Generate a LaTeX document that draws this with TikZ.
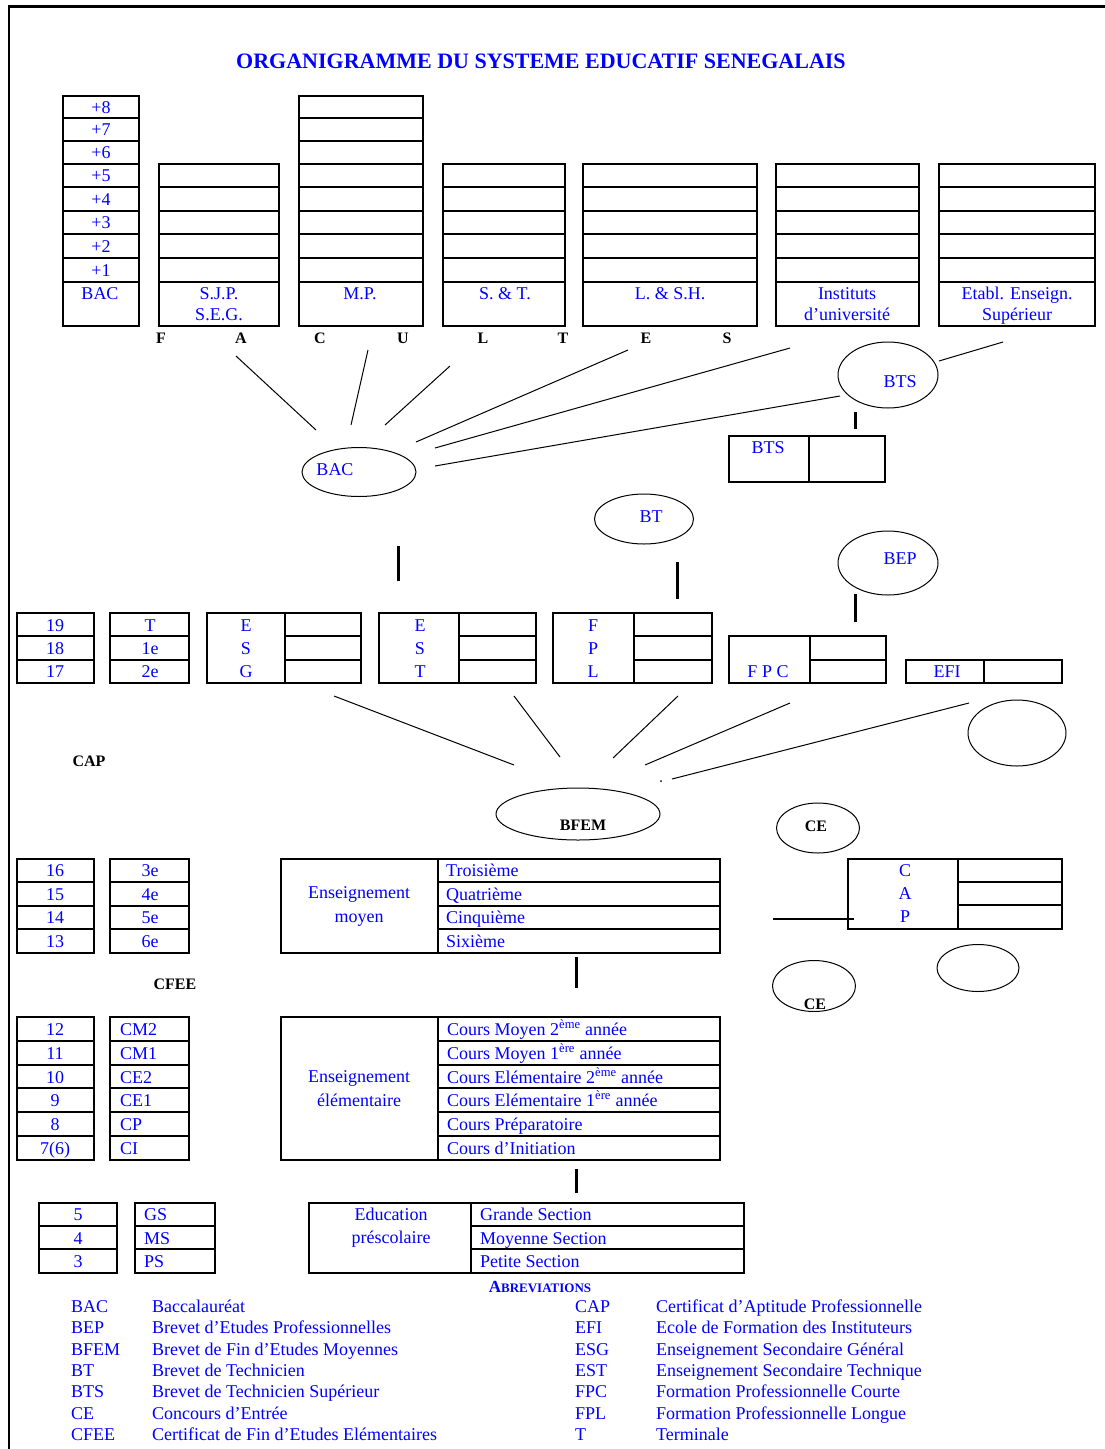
\documentclass[tikz,border=0pt]{standalone}
\usepackage{fontspec}
\setmainfont{Liberation Serif}
\usetikzlibrary{shapes.geometric}
\definecolor{txtblue}{RGB}{0,0,255}
\begin{document}
\begin{tikzpicture}[x=1pt,y=-1pt,
  box/.style={line width=1.5pt},
  thinline/.style={line width=1pt},
  stub/.style={line width=3pt},
  t/.style={text=txtblue,font=\fontsize{18}{20}\selectfont,inner sep=0pt,text height=12pt,text depth=0pt},
  tl/.style={t,anchor=west},
  tb/.style={text=black,font=\bfseries\fontsize{16}{18}\selectfont,inner sep=0pt,text height=11pt,text depth=0pt},
  ell/.style={draw,ellipse,line width=1pt,inner sep=0pt},
]
\useasboundingbox (0,0) rectangle (1105,1449);
% frame
\draw[line width=3pt] (8,6) -- (1105,6);
\draw[line width=2pt] (9,5) -- (9,1449);
% title
\node[text=txtblue,font=\bfseries\fontsize{22}{24}\selectfont,inner sep=0pt] (title) at (541,61) {ORGANIGRAMME DU SYSTEME EDUCATIF SENEGALAIS};

% ---------- top grid ----------
\draw[box] (63,96) rectangle (139,326);
\foreach \y in {118,141,164,187,211,234,258,282} \draw[box] (63,\y) -- (139,\y);
\foreach \lab/\y [count=\i] in {+8/107,+7/129.5,+6/152.5,+5/175.5,+4/199,+3/222.5,+2/246,+1/270}
  \node[t] (lv\i) at (101,\y) {\lab};
\node[t] (lbac) at (100,293) {BAC};

\foreach \xa/\xb in {159/279,443/565,583/757,776/919,939/1095}{
  \draw[box] (\xa,164) rectangle (\xb,326);
  \foreach \y in {187,211,234,258,282} \draw[box] (\xa,\y) -- (\xb,\y);
}
\draw[box] (299,96) rectangle (423,326);
\foreach \y in {118,141,164,187,211,234,258,282} \draw[box] (299,\y) -- (423,\y);

\node[t] (lsjp) at (219,293) {S.J.P.};
\node[t] (lseg) at (219,314) {S.E.G.};
\node[t] (lmp) at (360,293) {M.P.};
\node[t] (lst) at (505,293) {S. \& T.};
\node[t] (llsh) at (670,293) {L. \& S.H.};
\node[t] (linst) at (847,293) {Instituts};
\node[t] (luniv) at (847,314) {d'université};
\node[t] (letab) at (1017,293) {Etabl. Enseign.};
\node[t] (lsup) at (1017,314) {Supérieur};

\foreach \l/\x [count=\i] in {F/161,A/241,C/320,U/403,L/483,T/563,E/646,S/727}
  \node[tb] (fac\i) at (\x,338) {\l};

% ---------- BAC / BTS ----------
\node[ell,minimum width=114pt,minimum height=49pt] (ebac) at (359,472) {};
\node[t] (ebacl) at (335,469) {BAC};

\coordinate (a1) at (236,356); \coordinate (b1) at (316,430);
\coordinate (a2) at (368,350); \coordinate (b2) at (351,425);
\coordinate (a3) at (450,366); \coordinate (b3) at (385,425);
\coordinate (a4) at (628,350); \coordinate (b4) at (416,442);
\coordinate (a5) at (790,348); \coordinate (b5) at (435,448);
\coordinate (a6) at (840,396); \coordinate (b6) at (435,466);
\coordinate (a7) at (1003,342); \coordinate (b7) at (939,361);
\foreach \i in {1,...,7} \draw[thinline] (a\i) -- (b\i);

\node[ell,minimum width=100pt,minimum height=66pt] (ebts) at (888,375) {};
\node[t] (ebtsl) at (900,381) {BTS};
\coordinate (sbts1) at (855,412); \coordinate (sbts2) at (855,429);
\draw[stub] (sbts1) -- (sbts2);
\draw[box] (729,436) rectangle (885,482);
\draw[box] (809,436) -- (809,482);
\node[t] (bbts) at (768,447) {BTS};

\node[ell,minimum width=99pt,minimum height=50pt] (ebt) at (644,519) {};
\node[t] (ebtl) at (651,516) {BT};
\coordinate (sbt1) at (677,562); \coordinate (sbt2) at (677,599);
\draw[stub] (sbt1) -- (sbt2);

\node[ell,minimum width=100pt,minimum height=64pt] (ebep) at (888,563) {};
\node[t] (ebepl) at (900,558) {BEP};
\coordinate (sbep1) at (855,594); \coordinate (sbep2) at (855,622);
\draw[stub] (sbep1) -- (sbep2);

\coordinate (sbac1) at (398,546); \coordinate (sbac2) at (398,581);
\draw[stub] (sbac1) -- (sbac2);

% ---------- secondary row ----------
\draw[box] (17,613) rectangle (94,683);
\draw[box] (17,636) -- (94,636); \draw[box] (17,660) -- (94,660);
\node[t] (n19) at (55,625) {19};
\node[t] (n18) at (55,648) {18};
\node[t] (n17) at (55,671) {17};
\draw[box] (110,613) rectangle (189,683);
\draw[box] (110,636) -- (189,636); \draw[box] (110,660) -- (189,660);
\node[t] (cT) at (150,625) {T};
\node[t] (c1e) at (150,648) {1e};
\node[t] (c2e) at (150,671) {2e};

\foreach \xa/\xd/\xb/\nm in {207/285/361/esg,379/459/536/est,553/634/712/fpl}{
  \draw[box] (\xa,613) rectangle (\xb,683);
  \draw[box] (\xd,613) -- (\xd,683);
  \draw[box] (\xd,636) -- (\xb,636);
  \draw[box] (\xd,660) -- (\xb,660);
}
\node[t] (esg1) at (246,625) {E}; \node[t] (esg2) at (246,648) {S}; \node[t] (esg3) at (246,671) {G};
\node[t] (est1) at (420,625) {E}; \node[t] (est2) at (420,648) {S}; \node[t] (est3) at (420,671) {T};
\node[t] (fpl1) at (593,625) {F}; \node[t] (fpl2) at (593,648) {P}; \node[t] (fpl3) at (593,671) {L};

\draw[box] (729,636) rectangle (886,683);
\draw[box] (810,636) -- (810,683);
\draw[box] (810,660) -- (886,660);
\node[t] (fpc) at (768,671) {F P C};
\draw[box] (906,660) rectangle (1062,683);
\draw[box] (984,660) -- (984,683);
\node[t] (efi) at (947,671) {EFI};

% ---------- lines to BFEM ----------
\coordinate (c1) at (334,696); \coordinate (d1) at (514,765);
\coordinate (c2) at (514,696); \coordinate (d2) at (560,757);
\coordinate (c3) at (678,696); \coordinate (d3) at (613,758);
\coordinate (c4) at (790,703); \coordinate (d4) at (645,765);
\coordinate (c5) at (969,703); \coordinate (d5) at (672,779);
\foreach \i in {1,...,5} \draw[thinline] (c\i) -- (d\i);
\fill (661,781) circle (1pt);
\node[ell,minimum width=98pt,minimum height=66pt] (eempty1) at (1017,733) {};

\node[ell,minimum width=164pt,minimum height=52pt] (ebfem) at (578,814) {};
\node[tb] (ebfeml) at (583,825) {BFEM};
\node[tb] (capt) at (89,761) {CAP};

\node[ell,minimum width=83pt,minimum height=50pt] (ece1) at (818,828) {};
\node[tb] (ece1l) at (816,826) {CE};

\draw[box] (848,859) rectangle (1062,929);
\draw[box] (958,859) -- (958,929);
\draw[box] (958,882) -- (1062,882); \draw[box] (958,905) -- (1062,905);
\node[t] (cap1) at (905,870) {C};
\node[t] (cap2) at (905,893) {A};
\node[t] (cap3) at (905,916) {P};
\coordinate (hl1) at (773,919); \coordinate (hl2) at (854,919);
\draw[line width=1.2pt] (hl1) -- (hl2);

\node[ell,minimum width=83pt,minimum height=51pt] (ece2) at (814,986) {};
\node[tb] (ece2l) at (815,1004) {CE};
\node[ell,minimum width=82pt,minimum height=47pt] (eempty3) at (978,968) {};

% ---------- middle (moyen) ----------
\draw[box] (17,859) rectangle (94,953);
\foreach \y in {882,906,929} \draw[box] (17,\y) -- (94,\y);
\node[t] (n16) at (55,870) {16};
\node[t] (n15) at (55,894) {15};
\node[t] (n14) at (55,917) {14};
\node[t] (n13) at (55,941) {13};
\draw[box] (110,859) rectangle (189,953);
\foreach \y in {882,906,929} \draw[box] (110,\y) -- (189,\y);
\node[t] (c3e) at (150,870) {3e};
\node[t] (c4e) at (150,894) {4e};
\node[t] (c5e) at (150,917) {5e};
\node[t] (c6e) at (150,941) {6e};

\draw[box] (281,859) rectangle (720,953);
\draw[box] (438,859) -- (438,953);
\foreach \y in {882,906,929} \draw[box] (438,\y) -- (720,\y);
\node[t] (em1) at (359,892) {Enseignement};
\node[t] (em2) at (359,916) {moyen};
\node[tl] (m1) at (446,870) {Troisième};
\node[tl] (m2) at (446,894) {Quatrième};
\node[tl] (m3) at (446,917) {Cinquième};
\node[tl] (m4) at (446,941) {Sixième};
\coordinate (sm1) at (576,957); \coordinate (sm2) at (576,988);
\draw[stub] (sm1) -- (sm2);
\node[tb] (cfeet) at (175,984) {CFEE};

% ---------- elementary ----------
\draw[box] (17,1017) rectangle (94,1160);
\foreach \y in {1041,1065,1088,1112,1136} \draw[box] (17,\y) -- (94,\y);
\foreach \lab/\y [count=\i] in {12/1029,11/1053,10/1077,9/1100,8/1124,7(6)/1148}
  \node[t] (ne\i) at (55,\y) {\lab};
\draw[box] (110,1017) rectangle (189,1160);
\foreach \y in {1041,1065,1088,1112,1136} \draw[box] (110,\y) -- (189,\y);
\foreach \lab/\y [count=\i] in {CM2/1029,CM1/1053,CE2/1077,CE1/1100,CP/1124,CI/1148}
  \node[tl] (ce\i) at (120,\y) {\lab};

\draw[box] (281,1017) rectangle (720,1160);
\draw[box] (438,1017) -- (438,1160);
\foreach \y in {1041,1065,1088,1112,1136} \draw[box] (438,\y) -- (720,\y);
\node[t] (ee1) at (359,1076) {Enseignement};
\node[t] (ee2) at (359,1100) {élémentaire};
\node[tl] (el1) at (447,1029) {Cours Moyen 2\textsuperscript{ème} année};
\node[tl] (el2) at (447,1053) {Cours Moyen 1\textsuperscript{ère} année};
\node[tl] (el3) at (447,1077) {Cours Elémentaire 2\textsuperscript{ème} année};
\node[tl] (el4) at (447,1100) {Cours Elémentaire 1\textsuperscript{ère} année};
\node[tl] (el5) at (447,1124) {Cours Préparatoire};
\node[tl] (el6) at (447,1148) {Cours d'Initiation};
\coordinate (se1) at (576,1169); \coordinate (se2) at (576,1193);
\draw[stub] (se1) -- (se2);

% ---------- preschool ----------
\draw[box] (39,1203) rectangle (117,1273);
\draw[box] (39,1226) -- (117,1226); \draw[box] (39,1249) -- (117,1249);
\node[t] (np5) at (78,1214) {5};
\node[t] (np4) at (78,1238) {4};
\node[t] (np3) at (78,1261) {3};
\draw[box] (135,1203) rectangle (215,1273);
\draw[box] (135,1226) -- (215,1226); \draw[box] (135,1249) -- (215,1249);
\node[tl] (gs) at (144,1214) {GS};
\node[tl] (ms) at (144,1238) {MS};
\node[tl] (ps) at (144,1261) {PS};

\draw[box] (309,1203) rectangle (744,1273);
\draw[box] (471,1203) -- (471,1273);
\draw[box] (471,1226) -- (744,1226); \draw[box] (471,1249) -- (744,1249);
\node[t] (ep1) at (391,1214) {Education};
\node[t] (ep2) at (391,1237) {préscolaire};
\node[tl] (ps1) at (480,1214) {Grande Section};
\node[tl] (ps2) at (480,1238) {Moyenne Section};
\node[tl] (ps3) at (480,1261) {Petite Section};

% ---------- abbreviations ----------
\node[text=txtblue,inner sep=0pt,font=\bfseries] (abbr) at (540,1287)
  {{\fontsize{17}{18}\selectfont A}{\fontsize{13}{14}\selectfont BREVIATIONS}};
\foreach \ab/\de/\y [count=\i] in {
  BAC/Baccalauréat/1306,
  BEP/Brevet d'Etudes Professionnelles/1327,
  BFEM/Brevet de Fin d'Etudes Moyennes/1349,
  BT/Brevet de Technicien/1370,
  BTS/Brevet de Technicien Supérieur/1391,
  CE/Concours d'Entrée/1413,
  CFEE/Certificat de Fin d'Etudes Elémentaires/1434}{
  \node[tl] (la\i) at (71,\y) {\ab};
  \node[tl] (ld\i) at (152,\y) {\de};
}
\foreach \ab/\de/\y [count=\i] in {
  CAP/Certificat d'Aptitude Professionnelle/1306,
  EFI/Ecole de Formation des Instituteurs/1327,
  ESG/Enseignement Secondaire Général/1349,
  EST/Enseignement Secondaire Technique/1370,
  FPC/Formation Professionnelle Courte/1391,
  FPL/Formation Professionnelle Longue/1413,
  T/Terminale/1434}{
  \node[tl] (ra\i) at (575,\y) {\ab};
  \node[tl] (rd\i) at (656,\y) {\de};
}
\end{tikzpicture}
\end{document}
